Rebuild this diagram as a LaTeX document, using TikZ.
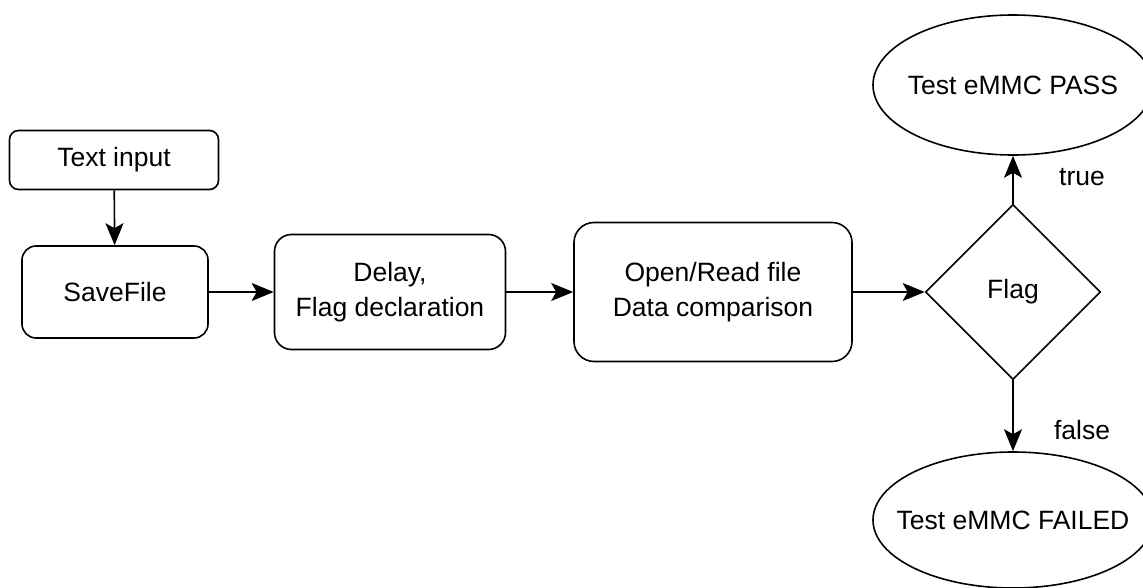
\documentclass[tikz,border=0pt]{standalone}
\usepackage{fontspec}
\setmainfont{Liberation Sans}
\usetikzlibrary{shapes.geometric,arrows.meta}
\tikzstyle{step box} = [draw=black, rounded corners=14pt, align=center, inner sep=0pt]
\tikzstyle{result} = [draw=black, ellipse, inner ysep=0pt, inner xsep=-40pt, minimum width=280pt]
\tikzset{flow/.style={-{Stealth[length=22pt, width=18pt, inset=5pt]}}}

\begin{document}
\begin{tikzpicture}[x=1pt, y=-1pt, line width=1.6pt, font=\fontsize{26.5}{35}\selectfont]%
	\useasboundingbox (0,0) rectangle (1143,588);%
	% process chain
	\node [step box, rounded corners=9pt, minimum width=209pt, minimum height=59pt] (input) at (114,160) {Text input};%
	\node [step box, minimum width=186pt, minimum height=92pt] (save) at (115,292) {SaveFile};%
	\node [step box, rounded corners=17pt, minimum width=231pt, minimum height=115pt] (delay) at (390,292) {Delay,\\Flag declaration};%
	\node [step box, rounded corners=20pt, minimum width=278pt, minimum height=139pt] (cmp) at (713,292) {Open/Read file\\Data comparison};%
	% decision
	\node [draw=black, diamond, aspect=1, inner sep=0pt, minimum size=175pt] (flag) at (1013,292) {Flag};%
	\node [result, minimum height=140pt] (pass) at (1013,85) {Test eMMC PASS};%
	\node [result, minimum height=136pt] (fail) at (1013,520) {Test eMMC FAILED};%
	% connectors
	\draw [flow] (input) -- (save);%
	\draw [flow] (save) -- (delay);%
	\draw [flow] (delay) -- (cmp);%
	\draw [flow] (cmp) -- (flag);%
	\draw [flow] (flag) -- node [midway, xshift=69pt, yshift=3pt] {true} (pass);%
	\draw [flow] (flag) -- node [midway, xshift=69pt, yshift=-14pt] {false} (fail);%
\end{tikzpicture}
\end{document}
